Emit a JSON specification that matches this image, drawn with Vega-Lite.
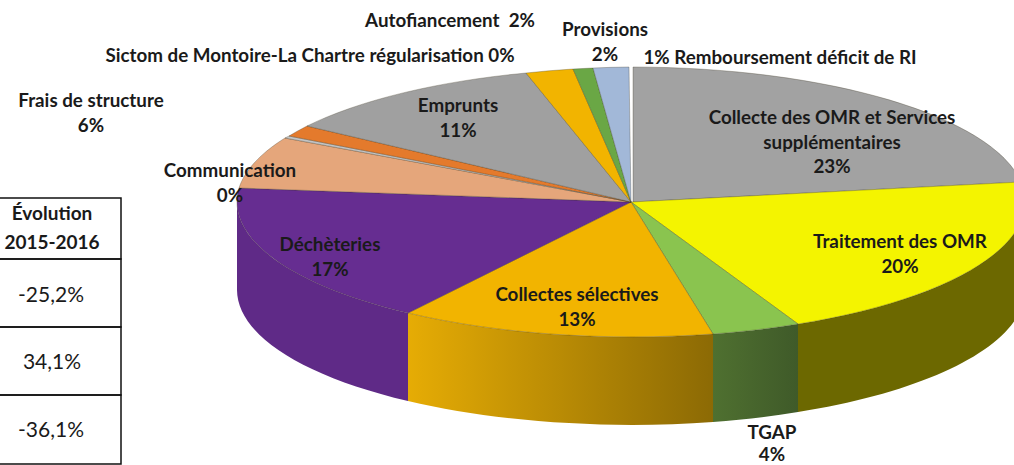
{
"$schema":"https://vega.github.io/schema/vega-lite/v6.json",
"width":1014,"height":465,"padding":0,"autosize":{"type":"none"},"background":"white",
"config":{"view":{"stroke":null},"text":{"font":"Lato","fontSize":18.8,"fontWeight":"bold","lineBreak":"\n","lineHeight":24.5,"baseline":"alphabetic","align":"center","color":"#1a1a1a"}},
"datasets":{
"postes":[
{"poste":"Collecte des OMR et Services supplémentaires","part":23,"etiquette":"Collecte des OMR et Services\nsupplémentaires\n23%"},
{"poste":"Traitement des OMR","part":20,"etiquette":"Traitement des OMR\n20%"},
{"poste":"TGAP","part":4,"etiquette":"TGAP\n4%"},
{"poste":"Collectes sélectives","part":13,"etiquette":"Collectes sélectives\n13%"},
{"poste":"Déchèteries","part":17,"etiquette":"Déchèteries\n17%"},
{"poste":"Frais de structure","part":6,"etiquette":"Frais de structure\n6%"},
{"poste":"Communication","part":0,"etiquette":"Communication\n0%"},
{"poste":"Sictom de Montoire-La Chartre régularisation","part":0,"etiquette":"Sictom de Montoire-La Chartre régularisation 0%"},
{"poste":"Emprunts","part":11,"etiquette":"Emprunts\n11%"},
{"poste":"Autofinancement","part":2,"etiquette":"Autofiancement \u00a02%"},
{"poste":"Provisions","part":2,"etiquette":"Provisions\n2%"},
{"poste":"Remboursement déficit de RI","part":1,"etiquette":"1% Remboursement déficit de RI"}
],
"tableau":[
{"rang":"entete","texte":"Évolution\n2015-2016"},
{"rang":"a","texte":"-25,2%"},
{"rang":"b","texte":"34,1%"},
{"rang":"c","texte":"-36,1%"}
]},
"data":{"name":"postes"},
"layer":[
{"transform":[{"filter":"datum.poste==='Déchèteries'"}],"mark":{"type":"point","filled":true,"opacity":1,"size":4,"fill":"#5F2A87","shape":"M-394 0A394 135 0 0 0 -223 111L-223 199A394 135 0 0 1 -394 88Z"},"encoding":{"x":{"value":631},"y":{"value":202}}},
{"transform":[{"filter":"datum.poste==='Collectes sélectives'"}],"mark":{"type":"point","filled":true,"opacity":1,"size":4,"fill":{"gradient":"linear","x1":0,"y1":0,"x2":1,"y2":0,"stops":[{"offset":0,"color":"#E6AC05"},{"offset":1,"color":"#8C6A05"}]},"shape":"M-223 111A394 135 0 0 0 82 132L82 220A394 135 0 0 1 -223 199Z"},"encoding":{"x":{"value":631},"y":{"value":202}}},
{"transform":[{"filter":"datum.poste==='TGAP'"}],"mark":{"type":"point","filled":true,"opacity":1,"size":4,"fill":{"gradient":"linear","x1":0,"y1":0,"x2":1,"y2":0,"stops":[{"offset":0,"color":"#4F7030"},{"offset":1,"color":"#3F5A29"}]},"shape":"M82 132A394 135 0 0 0 167 122L167 210A394 135 0 0 1 82 220Z"},"encoding":{"x":{"value":631},"y":{"value":202}}},
{"transform":[{"filter":"datum.poste==='Traitement des OMR'"}],"mark":{"type":"point","filled":true,"opacity":1,"size":4,"fill":"#6C6800","shape":"M167 122A394 135 0 0 0 394 0L394 88A394 135 0 0 1 167 210Z"},"encoding":{"x":{"value":631},"y":{"value":202}}},
{"mark":{"type":"point","filled":true,"opacity":1,"size":4,"stroke":"#3c3520","strokeWidth":0.6,"strokeOpacity":0.5},
"encoding":{"x":{"value":631},"y":{"value":202},
"shape":{"field":"poste","type":"nominal","legend":null,"scale":{"domain":["Collecte des OMR et Services supplémentaires","Traitement des OMR","TGAP","Collectes sélectives","Déchèteries","Frais de structure","Communication","Sictom de Montoire-La Chartre régularisation","Emprunts","Autofinancement","Provisions","Remboursement déficit de RI"],
"range":["M2 0L2 -135A394 135 0 0 1 390 -20Z","M0 0L390 -20A394 135 0 0 1 167 122Z","M0 0L167 122A394 135 0 0 1 82 132Z","M0 0L82 132A394 135 0 0 1 -223 111Z","M0 0L-223 111A394 135 0 0 1 -392 -14Z","M0 0L-392 -14A394 135 0 0 1 -346 -64Z","M0 0L-346 -64A394 135 0 0 1 -342 -66Z","M0 0L-342 -66A394 135 0 0 1 -324 -76Z","M0 0L-324 -76A394 135 0 0 1 -105 -129Z","M0 0L-105 -129A394 135 0 0 1 -58 -133Z","M0 0L-58 -133A394 135 0 0 1 -38 -134Z","M0 0L-38 -134A394 135 0 0 1 -2 -135Z"]}},
"color":{"field":"poste","type":"nominal","legend":null,"scale":{"domain":["Collecte des OMR et Services supplémentaires","Traitement des OMR","TGAP","Collectes sélectives","Déchèteries","Frais de structure","Communication","Sictom de Montoire-La Chartre régularisation","Emprunts","Autofinancement","Provisions","Remboursement déficit de RI"],
"range":["#A2A2A2","#F4F400","#8AC44F","#F2B400","#662D91","#E5A67B","#C4C4C4","#E47A2C","#A0A0A0","#F2B400","#6AA745","#A2B8D8"]}}}},
{"transform":[{"filter":"datum.poste==='Collecte des OMR et Services supplémentaires'"}],"mark":"text","encoding":{"text":{"field":"etiquette"},"x":{"value":832},"y":{"value":124}}},
{"transform":[{"filter":"datum.poste==='Traitement des OMR'"}],"mark":"text","encoding":{"text":{"field":"etiquette"},"x":{"value":900},"y":{"value":248}}},
{"transform":[{"filter":"datum.poste==='TGAP'"}],"mark":{"type":"text","lineHeight":21.5},"encoding":{"text":{"field":"etiquette"},"x":{"value":772},"y":{"value":439}}},
{"transform":[{"filter":"datum.poste==='Collectes sélectives'"}],"mark":"text","encoding":{"text":{"field":"etiquette"},"x":{"value":577},"y":{"value":301}}},
{"transform":[{"filter":"datum.poste==='Déchèteries'"}],"mark":"text","encoding":{"text":{"field":"etiquette"},"x":{"value":330},"y":{"value":251}}},
{"transform":[{"filter":"datum.poste==='Frais de structure'"}],"mark":"text","encoding":{"text":{"field":"etiquette"},"x":{"value":91},"y":{"value":107}}},
{"transform":[{"filter":"datum.poste==='Communication'"}],"mark":"text","encoding":{"text":{"field":"etiquette"},"x":{"value":230},"y":{"value":177}}},
{"transform":[{"filter":"datum.poste==='Sictom de Montoire-La Chartre régularisation'"}],"mark":"text","encoding":{"text":{"field":"etiquette"},"x":{"value":310},"y":{"value":62}}},
{"transform":[{"filter":"datum.poste==='Emprunts'"}],"mark":"text","encoding":{"text":{"field":"etiquette"},"x":{"value":458},"y":{"value":112}}},
{"transform":[{"filter":"datum.poste==='Autofinancement'"}],"mark":"text","encoding":{"text":{"field":"etiquette"},"x":{"value":450},"y":{"value":27}}},
{"transform":[{"filter":"datum.poste==='Provisions'"}],"mark":"text","encoding":{"text":{"field":"etiquette"},"x":{"value":605},"y":{"value":36}}},
{"transform":[{"filter":"datum.poste==='Remboursement déficit de RI'"}],"mark":"text","encoding":{"text":{"field":"etiquette"},"x":{"value":780},"y":{"value":64}}},
{"data":{"name":"tableau"},"transform":[{"filter":"datum.rang==='entete'"}],"layer":[
{"mark":{"type":"rect","fill":null,"stroke":"#111","strokeWidth":1.5},"encoding":{"x":{"value":-4},"x2":{"value":121},"y":{"value":198},"y2":{"value":259}}},
{"mark":{"type":"text","lineHeight":29,"fontSize":19},"encoding":{"text":{"field":"texte"},"x":{"value":52},"y":{"value":220}}}]},
{"data":{"name":"tableau"},"transform":[{"filter":"datum.rang==='a'"}],"layer":[
{"mark":{"type":"rect","fill":null,"stroke":"#111","strokeWidth":1.5},"encoding":{"x":{"value":-4},"x2":{"value":121},"y":{"value":259},"y2":{"value":327}}},
{"mark":{"type":"text","fontWeight":"normal","fontSize":21},"encoding":{"text":{"field":"texte"},"x":{"value":51},"y":{"value":302}}}]},
{"data":{"name":"tableau"},"transform":[{"filter":"datum.rang==='b'"}],"layer":[
{"mark":{"type":"rect","fill":null,"stroke":"#111","strokeWidth":1.5},"encoding":{"x":{"value":-4},"x2":{"value":121},"y":{"value":327},"y2":{"value":395}}},
{"mark":{"type":"text","fontWeight":"normal","fontSize":21},"encoding":{"text":{"field":"texte"},"x":{"value":52},"y":{"value":369}}}]},
{"data":{"name":"tableau"},"transform":[{"filter":"datum.rang==='c'"}],"layer":[
{"mark":{"type":"rect","fill":null,"stroke":"#111","strokeWidth":1.5},"encoding":{"x":{"value":-4},"x2":{"value":121},"y":{"value":395},"y2":{"value":464}}},
{"mark":{"type":"text","fontWeight":"normal","fontSize":21},"encoding":{"text":{"field":"texte"},"x":{"value":51},"y":{"value":437}}}]}
]
}
